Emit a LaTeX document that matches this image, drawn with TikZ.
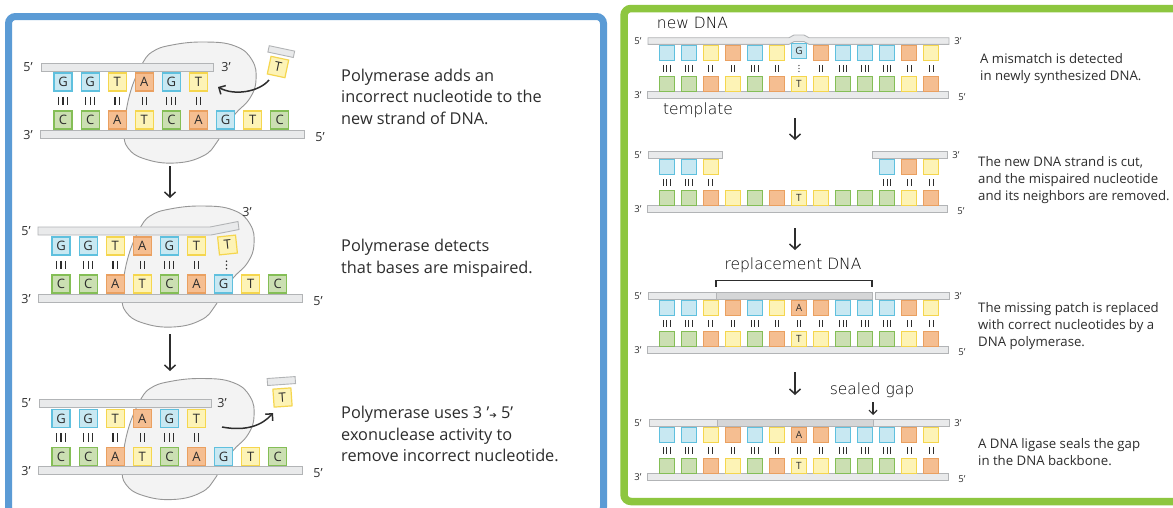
\documentclass[tikz,border=0pt]{standalone}
\usepackage{fontspec}
\setmainfont{Open Sans}
\newfontfamily\handfont{DejaVu Sans ExtraLight}
\newfontfamily\symbolfont{DejaVu Sans}
\usetikzlibrary{arrows.meta}

\definecolor{frameblue}{RGB}{91,155,213}
\definecolor{framegreen}{RGB}{141,198,63}
\definecolor{fillG}{RGB}{200,232,242}
\definecolor{lineG}{RGB}{95,192,222}
\definecolor{fillC}{RGB}{203,223,178}
\definecolor{lineC}{RGB}{132,190,86}
\definecolor{fillT}{RGB}{253,243,182}
\definecolor{lineT}{RGB}{245,214,78}
\definecolor{fillA}{RGB}{245,190,145}
\definecolor{lineA}{RGB}{234,160,96}
\definecolor{barfill}{RGB}{233,234,235}
\definecolor{barfilldark}{RGB}{213,214,215}
\definecolor{barline}{RGB}{178,180,182}
\definecolor{blobfill}{RGB}{243,243,243}
\definecolor{blobline}{RGB}{150,150,150}
\definecolor{ink}{RGB}{45,45,45}

% n vertical hydrogen-bond strokes centred at (x,y)
\newcommand\dnabonds[6]{%
  \foreach \bk in {1,...,#1}{%
    \draw[#6] ({#2+(\bk-(#1+1)/2)*#5},{#3-#4}) -- ({#2+(\bk-(#1+1)/2)*#5},{#3+#4});}}
% three dots marking a mispaired base
\newcommand\mismatchdots[4]{%
  \foreach \dd in {-1,0,1}{\fill[ink] (#1,{#2+\dd*#3}) circle (#4);}}
% outline of the polymerase enzyme, relative to the top strand
\newcommand\polymerase{%
  \draw[blob] plot[smooth cycle, tension=0.75] coordinates {(140,-3) (150,-15) (170,-22) (203,-25) (233,-21) (250,-7) (254,13) (248,31) (234,46) (222,61) (215,75) (201,89) (173,96) (143,92) (126,81) (122,65) (124,45) (129,23) (136,5)};}

\tikzset{
  nuc/.style={draw=line#1, fill=fill#1, line width=1.2, minimum size=18, inner sep=0, text=ink, font=\fontsize{13}{14}\selectfont},
  rnuc/.style={draw=line#1, fill=fill#1, line width=1, minimum size=15, inner sep=0, text=ink, font=\fontsize{10}{11}\selectfont},
  strand/.style={fill=barfill, draw=barline, line width=0.9},
  strandnew/.style={fill=barfilldark, draw=barline, line width=0.9},
  blob/.style={fill=blobfill, draw=blobline, line width=0.9},
  endlab/.style={text=ink, inner sep=0, font=\fontsize{12.5}{13}\selectfont},
  rendlab/.style={text=ink, inner sep=0, font=\fontsize{9.5}{10}\selectfont},
  caption/.style={anchor=base west, inner sep=0, text=ink, font=\fontsize{16.3}{20}\selectfont},
  rcaption/.style={anchor=base west, inner sep=0, text=ink, font=\fontsize{13.2}{17}\selectfont},
  hand/.style={text=black, inner sep=0, font=\handfont\fontsize{15.5}{17}\selectfont},
  bondL/.style={draw=ink, line width=1.1},
  bondR/.style={draw=ink, line width=0.9},
  downarrow/.style={draw=ink, line width=1.5, -{Straight Barb[length=5, width=11]}},
  smallarrow/.style={draw=ink, line width=1.2, -{Straight Barb[length=4, width=8]}},
  curvearrow/.style={draw=ink, line width=1.5, -{Straight Barb[length=5, width=10]}},
  bracket/.style={draw=ink, line width=1.4},
}

\begin{document}
\begin{tikzpicture}[x=1pt,y=-1pt]
\useasboundingbox (0,0) rectangle (1173,507);
\clip (0,0) rectangle (1173,507);
\fill[white] (0,0) rectangle (1173,507);

% panel frames
\draw[frameblue, line width=7, rounded corners=7] (8.5,16.5) rectangle (603.5,514);
\draw[framegreen, line width=7.5, rounded corners=7] (624,8.5) rectangle (1190,501.5);

%% ---------------- proofreading by the polymerase ----------------
% step 1: wrong nucleotide arrives
\begin{scope}[shift={(2,67)}]
  \polymerase
  \draw[strand] (39,-4) rectangle (211,4);
  \draw[strand] (38,63) rectangle (302,71);
  \node[endlab] (l1a) at (26,0) {5’};
  \node[endlab] (l1b) at (224,0) {3’};
  \node[endlab] (l1c) at (26,68) {3’};
  \node[endlab] (l1d) at (318,70) {5’};
  \foreach \b [count=\i from 0] in {G,G,T,A,G,T}
    \node[nuc=\b] (l1t\i) at ({61+27.1*\i},15) {\b};
  \foreach \b [count=\i from 0] in {C,C,A,T,C,A,G,T,C}
    \node[nuc=\b] (l1b\i) at ({61+27.1*\i},53) {\b};
  \foreach \n [count=\i from 0] in {3,3,2,2,3,2}
    \dnabonds{\n}{61+27.1*\i}{34}{4.2}{4.5}{bondL};
  \begin{scope}[shift={(276,0)}, rotate=-12, transform shape]
    \draw[strand] (-13,-19) rectangle (13,-12.5);
    \node[nuc=T] (l1in) at (0,0) {T};
  \end{scope}
  \coordinate (l1from) at (267,13);
  \coordinate (l1to) at (216,20);
  \draw[curvearrow] (l1from) .. controls (257,25) and (232,29) .. (l1to);
\end{scope}

\coordinate (la1) at (170,166);
\coordinate (la2) at (170,198);
\draw[downarrow] (la1) -- (la2);

% step 2: mismatch detected
\begin{scope}[shift={(0,231)}]
  \polymerase
  \draw[strand] (38,-4) -- (210,-4) -- (238,-9.5) -- (239,-1.5) -- (211,4) -- (38,4) -- cycle;
  \draw[strand] (38,63) rectangle (302,71);
  \node[endlab] (l2a) at (26,0) {5’};
  \node[endlab] (l2b) at (247,-19) {3’};
  \node[endlab] (l2c) at (26,68) {3’};
  \node[endlab] (l2d) at (318,70) {5’};
  \foreach \b [count=\i from 0] in {G,G,T,A,G,T}
    \node[nuc=\b] (l2t\i) at ({61+27.1*\i},15) {\b};
  \node[nuc=T, rotate=6] (l2t6) at (227.5,14) {T};
  \foreach \b [count=\i from 0] in {C,C,A,T,C,A,G,T,C}
    \node[nuc=\b] (l2b\i) at ({61+27.1*\i},53) {\b};
  \foreach \n [count=\i from 0] in {3,3,2,2,3,2}
    \dnabonds{\n}{61+27.1*\i}{34}{4.2}{4.5}{bondL};
  \mismatchdots{226.5}{34}{3.8}{0.85}
\end{scope}

\coordinate (lb1) at (170,334);
\coordinate (lb2) at (170,371);
\draw[downarrow] (lb1) -- (lb2);

% step 3: exonuclease removes the wrong nucleotide
\begin{scope}[shift={(0,403.5)}]
  \polymerase
  \draw[strand] (39,-4) rectangle (211,4);
  \draw[strand] (38,63) rectangle (302,71);
  \node[endlab] (l3a) at (26,0) {5’};
  \node[endlab] (l3b) at (222,0) {3’};
  \node[endlab] (l3c) at (26,68) {3’};
  \node[endlab] (l3d) at (318,70) {5’};
  \foreach \b [count=\i from 0] in {G,G,T,A,G,T}
    \node[nuc=\b] (l3t\i) at ({61+27.1*\i},15) {\b};
  \foreach \b [count=\i from 0] in {C,C,A,T,C,A,G,T,C}
    \node[nuc=\b] (l3b\i) at ({61+27.1*\i},53) {\b};
  \foreach \n [count=\i from 0] in {3,3,2,2,3,2}
    \dnabonds{\n}{61+27.1*\i}{34}{4.2}{4.5}{bondL};
  \begin{scope}[shift={(282.5,-6)}, rotate=4, transform shape]
    \draw[strand] (-14,-20) rectangle (14,-13);
    \node[nuc=T] (l3out) at (0,0) {T};
  \end{scope}
  \coordinate (l3from) at (222,23.5);
  \coordinate (l3to) at (273,9.5);
  \draw[curvearrow] (l3from) .. controls (246,28) and (262,22) .. (l3to);
\end{scope}

% captions of the left column
\node[caption] (c1a) at (341,81.5) {Polymerase adds an};
\node[caption] (c1b) at (341,102.5) {incorrect nucleotide to the};
\node[caption] (c1c) at (341,124) {new strand of DNA.};
\node[caption] (c2a) at (341,251.5) {Polymerase detects};
\node[caption] (c2b) at (341,273) {that bases are mispaired.};
\node[caption] (c3a) at (341,418.5) {Polymerase uses 3 ’{\symbolfont\fontsize{9}{10}\selectfont ➔} 5’};
\node[caption] (c3b) at (341,440) {exonuclease activity to};
\node[caption] (c3c) at (341,461.5) {remove incorrect nucleotide.};

%% ---------------- mismatch repair ----------------
\node[hand] (newdna) at (692.5,23) {new DNA};
\node[hand] (templ) at (698,110) {template};

% step 1: mismatch in the new strand
\begin{scope}[shift={(0,41)}]
  \draw[strand] (648,-3.3) -- (789,-3.3) .. controls (791,-3.3) and (792,-6) .. (794,-6) -- (804,-6)
    .. controls (806,-6) and (807,-3.3) .. (809,-3.3) -- (949,-3.3) -- (949,3.3) -- (809,3.3)
    .. controls (807,3.3) and (806,0.6) .. (804,0.6) -- (794,0.6) .. controls (792,0.6) and (791,3.3) .. (789,3.3)
    -- (648,3.3) -- cycle;
  \draw[strand] (647,50.7) rectangle (948,57.3);
  \node[rendlab] (r1a) at (638,0) {5’};
  \node[rendlab] (r1b) at (958,0) {3’};
  \node[rendlab] (r1c) at (638,54) {3’};
  \node[rendlab] (r1d) at (962,56) {5’};
  \foreach \b [count=\i from 0] in {G,G,T,A,G,T,G,A,G,G,G,A,T}
    \node[rnuc=\b] (r1t\i) at ({666.5+22.08*\i},{ifthenelse(\i==6,9.8,12)}) {\ifnum\i=6 G\fi};
  \foreach \b [count=\i from 0] in {C,C,A,T,C,A,T,T,C,C,C,T,A}
    \node[rnuc=\b] (r1b\i) at ({666.5+22.08*\i},43) {\ifnum\i=6 T\fi};
  \foreach \n [count=\i from 0] in {3,3,2,2,3,2,0,2,3,3,3,2,2}{
    \ifnum\n=0 \mismatchdots{666.5+22.08*\i}{27.5}{2.9}{0.65}
    \else \dnabonds{\n}{666.5+22.08*\i}{27.5}{3.2}{3.5}{bondR}\fi}
\end{scope}

\coordinate (ra1) at (795,118);
\coordinate (ra2) at (795,140);
\draw[downarrow] (ra1) -- (ra2);

% step 2: the new strand is cut and the patch removed
\begin{scope}[shift={(0,155)}]
  \draw[strand] (648,-3.3) rectangle (722,3.3);
  \draw[strand] (872,-3.3) rectangle (947,3.3);
  \draw[strand] (647,50.7) rectangle (947,57.3);
  \node[rendlab] (r2a) at (638,0) {5’};
  \node[rendlab] (r2b) at (956,0) {3’};
  \node[rendlab] (r2c) at (638,54) {3’};
  \node[rendlab] (r2d) at (961,56) {5’};
  \foreach \b [count=\i from 0] in {G,G,T}
    \node[rnuc=\b] (r2t\i) at ({666.5+22.08*\i},12) {};
  \foreach \b [count=\i from 10] in {G,A,T}
    \node[rnuc=\b] (r2t\i) at ({666.5+22.08*\i},12) {};
  \foreach \b [count=\i from 0] in {C,C,A,T,C,A,T,T,C,C,C,T,A}
    \node[rnuc=\b] (r2b\i) at ({666.5+22.08*\i},43) {\ifnum\i=6 T\fi};
  \foreach \n [count=\i from 0] in {3,3,2}
    \dnabonds{\n}{666.5+22.08*\i}{27.5}{3.2}{3.5}{bondR};
  \foreach \n [count=\i from 10] in {3,2,2}
    \dnabonds{\n}{666.5+22.08*\i}{27.5}{3.2}{3.5}{bondR};
\end{scope}

\coordinate (rb1) at (795,228);
\coordinate (rb2) at (795,250);
\draw[downarrow] (rb1) -- (rb2);

% step 3: replacement DNA synthesised
\node[hand] (repl) at (793,265) {replacement DNA};
\begin{scope}[shift={(0,296)}]
  \coordinate (brl) at (716,-9);
  \coordinate (brr) at (872,-9);
  \draw[bracket] (brl) -- ++(0,-6.5) -| (brr);
  \draw[strand] (648,-3.3) rectangle (716,3.3);
  \draw[strandnew] (716,-3.3) rectangle (872,3.3);
  \draw[strand] (875,-3.3) rectangle (949,3.3);
  \draw[strand] (647,50.7) rectangle (948,57.3);
  \node[rendlab] (r3a) at (638,0) {5’};
  \node[rendlab] (r3b) at (958,0) {3’};
  \node[rendlab] (r3c) at (638,54) {3’};
  \node[rendlab] (r3d) at (962,56) {5’};
  \foreach \b [count=\i from 0] in {G,G,T,A,G,T,A,A,G,G,G,A,T}
    \node[rnuc=\b] (r3t\i) at ({666.5+22.08*\i},12) {\ifnum\i=6 A\fi};
  \foreach \b [count=\i from 0] in {C,C,A,T,C,A,T,T,C,C,C,T,A}
    \node[rnuc=\b] (r3b\i) at ({666.5+22.08*\i},43) {\ifnum\i=6 T\fi};
  \foreach \n [count=\i from 0] in {3,3,2,2,3,2,2,2,3,3,3,2,2}
    \dnabonds{\n}{666.5+22.08*\i}{27.5}{3.2}{3.5}{bondR};
\end{scope}

\coordinate (rc1) at (795,372);
\coordinate (rc2) at (795,395);
\draw[downarrow] (rc1) -- (rc2);

% step 4: ligase seals the nick
\node[hand] (sealed) at (872,390) {sealed gap};
\coordinate (sg1) at (873,402);
\coordinate (sg2) at (873,415);
\draw[smallarrow] (sg1) -- (sg2);
\begin{scope}[shift={(0,423)}]
  \draw[strand] (649,-3.3) rectangle (717,3.3);
  \draw[strandnew] (717,-3.3) rectangle (873,3.3);
  \draw[strand] (873,-3.3) rectangle (949,3.3);
  \draw[strand] (647,50.7) rectangle (948,57.3);
  \node[rendlab] (r4a) at (638,0) {5’};
  \node[rendlab] (r4b) at (958,0) {3’};
  \node[rendlab] (r4c) at (638,54) {3’};
  \node[rendlab] (r4d) at (962,56) {5’};
  \foreach \b [count=\i from 0] in {G,G,T,A,G,T,A,A,G,G,G,A,T}
    \node[rnuc=\b] (r4t\i) at ({666.5+22.08*\i},12) {\ifnum\i=6 A\fi};
  \foreach \b [count=\i from 0] in {C,C,A,T,C,A,T,T,C,C,C,T,A}
    \node[rnuc=\b] (r4b\i) at ({666.5+22.08*\i},43) {\ifnum\i=6 T\fi};
  \foreach \n [count=\i from 0] in {3,3,2,2,3,2,2,2,3,3,3,2,2}
    \dnabonds{\n}{666.5+22.08*\i}{27.5}{3.2}{3.5}{bondR};
\end{scope}

% captions of the right column
\node[rcaption] (d1a) at (980,63) {A mismatch is detected};
\node[rcaption] (d1b) at (980,80) {in newly synthesized DNA.};
\node[rcaption] (d2a) at (978,166) {The new DNA strand is cut,};
\node[rcaption] (d2b) at (978,183) {and the mispaired nucleotide};
\node[rcaption] (d2c) at (978,200) {and its neighbors are removed.};
\node[rcaption] (d3a) at (978,312) {The missing patch is replaced};
\node[rcaption] (d3b) at (978,329) {with correct nucleotides by a};
\node[rcaption] (d3c) at (978,346) {DNA polymerase.};
\node[rcaption] (d4a) at (978,448) {A DNA ligase seals the gap};
\node[rcaption] (d4b) at (978,465) {in the DNA backbone.};
\end{tikzpicture}
\end{document}
